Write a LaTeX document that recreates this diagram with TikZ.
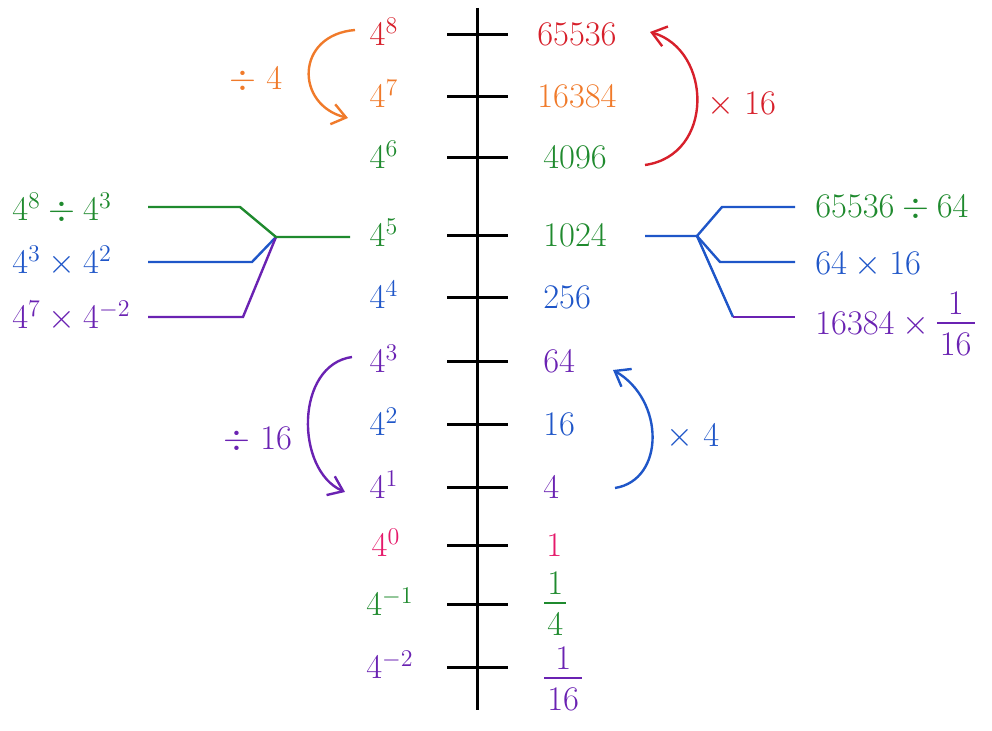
\documentclass[tikz,border=0pt]{standalone}
\usepackage{amsmath}
\usetikzlibrary{arrows.meta, positioning, calc}
\definecolor{pwRed}{HTML}{D7202B}
\definecolor{pwOrange}{HTML}{F07A2A}
\definecolor{pwGreen}{HTML}{1F8A2E}
\definecolor{pwBlue}{HTML}{1F56C8}
\definecolor{pwPurple}{HTML}{6A22B2}
\definecolor{pwPink}{HTML}{E5196A}
% compact stacked fraction
\newcommand{\pwfr}[2]{\ensuremath{\vcenter{\hbox{%
  \renewcommand{\arraystretch}{0.3}\setlength{\arrayrulewidth}{0.9pt}%
  \setlength{\tabcolsep}{1.5pt}%
  \begin{tabular}{c}$#1$\\[1.5pt]\hline\rule{0pt}{16pt}$#2$\end{tabular}}}}}

\begin{document}
\begin{tikzpicture}[
    x=0.5pt, y=-0.5pt,
    lab/.style={font=\fontsize{18}{22}\selectfont, inner sep=0pt, anchor=base},
    num/.style={lab, anchor=base west},
    frac/.style={font=\fontsize{18}{22}\selectfont, inner sep=0pt, anchor=west},
    axis/.style={line width=1.5pt, draw=black},
    br/.style={line width=1.2pt},
    hop/.style={line width=1.2pt, -{Straight Barb[length=2.4mm, width=3.6mm]}},
  ]
  \useasboundingbox (0,0) rectangle (992,731);
  % axis with one tick per power of 4
  \coordinate (top) at (477,8);
  \coordinate (bot) at (477,710);
  \draw[axis] (top) -- (bot);
  \foreach \y in {35,97,158,236,298,362,425,488,546,605,668}
    \draw[axis] (447,\y) -- (508,\y);

  % powers on the left, values on the right (base line = tick + 11)
  \node[lab, text=pwRed]    (p8) at (384,46)  {$4^{8}$};
  \node[lab, text=pwOrange] (p7) at (384,108) {$4^{7}$};
  \node[lab, text=pwGreen]  (p6) at (384,169) {$4^{6}$};
  \node[lab, text=pwGreen]  (p5) at (384,247) {$4^{5}$};
  \node[lab, text=pwBlue]   (p4) at (384,309) {$4^{4}$};
  \node[lab, text=pwPurple] (p3) at (384,373) {$4^{3}$};
  \node[lab, text=pwBlue]   (p2) at (384,436) {$4^{2}$};
  \node[lab, text=pwPurple] (p1) at (384,499) {$4^{1}$};
  \node[lab, text=pwPink]   (p0) at (386,557) {$4^{0}$};
  \node[lab, text=pwGreen]  (pm1) at (390,616) {$4^{-1}$};
  \node[lab, text=pwPurple] (pm2) at (390,679) {$4^{-2}$};

  \node[num, text=pwRed]    (v8) at (537,46)  {$65536$};
  \node[num, text=pwOrange] (v7) at (537,108) {$16384$};
  \node[num, text=pwGreen]  (v6) at (543,169) {$4096$};
  \node[num, text=pwGreen]  (v5) at (543,247) {$1024$};
  \node[num, text=pwBlue]   (v4) at (543,309) {$256$};
  \node[num, text=pwPurple] (v3) at (543,373) {$64$};
  \node[num, text=pwBlue]   (v2) at (543,436) {$16$};
  \node[num, text=pwPurple] (v1) at (543,499) {$4$};
  \node[num, text=pwPink]   (v0) at (546,557) {$1$};
  \node[frac, text=pwGreen]  (vm1) at (544,606) {\pwfr{1}{4}};
  \node[frac, text=pwPurple] (vm2) at (544,681) {\pwfr{1}{16}};

  % steps along the axis
  \coordinate (a1) at (355,30);  \coordinate (a2) at (348,118);
  \draw[hop, pwOrange] (a1) .. controls (295,35) and (295,105) .. (a2);
  \node[lab, anchor=center, text=pwOrange] (d4) at (256,80) {${\div}\;4$};

  \coordinate (b1) at (645,165); \coordinate (b2) at (650,32);
  \draw[hop, pwRed] (b1) .. controls (715,155) and (712,50) .. (b2);
  \node[lab, anchor=center, text=pwRed] (m16) at (742,105) {${\times}\;16$};

  \coordinate (c1) at (352,357); \coordinate (c2) at (345,492);
  \draw[hop, pwPurple] (c1) .. controls (295,365) and (295,470) .. (c2);
  \node[lab, anchor=center, text=pwPurple] (d16) at (258,440) {${\div}\;16$};

  \coordinate (e1) at (615,488); \coordinate (e2) at (613,370);
  \draw[hop, pwBlue] (e1) .. controls (665,480) and (665,400) .. (e2);
  \node[lab, anchor=center, text=pwBlue] (m4) at (693,437) {${\times}\;4$};

  % three ways to reach 4^5
  \node[lab, anchor=base west, text=pwGreen]  (l1) at (12,221) {$4^{8}\div 4^{3}$};
  \node[lab, anchor=base west, text=pwBlue]   (l2) at (12,274) {$4^{3}\times 4^{2}$};
  \node[lab, anchor=base west, text=pwPurple] (l3) at (12,329) {$4^{7}\times 4^{-2}$};
  \coordinate (jL) at (276,237);
  \coordinate (pL) at (350,237);
  \coordinate (kL1) at (240,207); \coordinate (eL1) at (148,207);
  \coordinate (kL2) at (252,262); \coordinate (eL2) at (148,262);
  \coordinate (kL3) at (243,317); \coordinate (eL3) at (148,317);
  \draw[br, pwBlue]   (jL) -- (kL2) -- (eL2);
  \draw[br, pwPurple] (jL) -- (kL3) -- (eL3);
  \draw[br, pwGreen]  (pL) -- (jL) -- (kL1) -- (eL1);

  % three ways to reach 1024
  \node[lab, anchor=base west, text=pwGreen] (r1) at (815,218) {$65536\div 64$};
  \node[lab, anchor=base west, text=pwBlue]  (r2) at (815,275) {$64\times 16$};
  \node[frac, text=pwPurple] (r3) at (815,326) {$16384\times\pwfr{1}{16}$};
  \coordinate (jR) at (697,236);
  \coordinate (pR) at (645,236);
  \coordinate (kR1) at (722,207); \coordinate (eR1) at (795,207);
  \coordinate (kR2) at (720,262); \coordinate (eR2) at (795,262);
  \coordinate (kR3) at (733,317); \coordinate (eR3) at (795,317);
  \draw[br, pwBlue]   (pR) -- (jR) -- (kR1) -- (eR1);
  \draw[br, pwBlue]   (jR) -- (kR2) -- (eR2);
  \draw[br, pwBlue]   (jR) -- (kR3);
  \draw[br, pwPurple] (kR3) -- (eR3);
\end{tikzpicture}
\end{document}
